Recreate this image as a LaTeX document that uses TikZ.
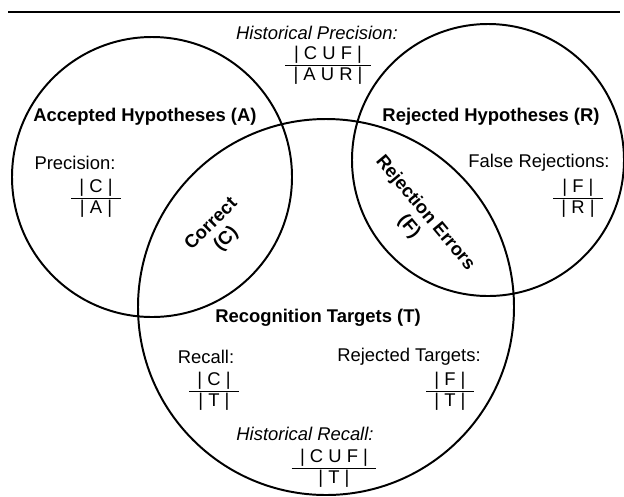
\documentclass[tikz,border=0pt]{standalone}
\usepackage{fontspec}
\setmainfont{Liberation Sans}
\usetikzlibrary{positioning}
\tikzset{
  setline/.style={line width=1.4pt},
  setname/.style={font=\bfseries},
  measure/.style={align=center, inner sep=0pt},
}
\setlength{\arrayrulewidth}{0.6pt}
\newcommand{\ratio}[2]{\begin{tabular}{@{\hspace{6pt}}c@{\hspace{6pt}}}#1\\[-1pt]\hline\rule{0pt}{11pt}#2\end{tabular}}

\begin{document}
\fontsize{13.1}{15}\selectfont
\begin{tikzpicture}[x=0.025cm,y=-0.025cm]
            \useasboundingbox (0,0) rectangle (624,496);
            \draw[line width=2pt] (8,12) -- (620,12);
            % the three sets
            \coordinate (cA) at (152,177);
            \coordinate (cR) at (488,160);
            \coordinate (cT) at (326,307);
            \draw[setline] (cA) circle[radius=140];
            \draw[setline] (cR) circle[radius=136];
            \draw[setline] (cT) circle[radius=188];
            % set names
            \node[setname] (nameA) at (145,117) {Accepted Hypotheses (A)};
            \node[setname] (nameR) at (491,117) {Rejected Hypotheses (R)};
            \node[setname] (nameT) at (318,318) {Recognition Targets (T)};
            \node[setname, align=center, rotate=45] (corr) at (219,232) {Correct\\(C)};
            \node[setname, align=center, rotate=-50] (rerr) at (417,220) {Rejection Errors\\(F)};
            % measures
            \node (hprec) at (317,33) {\itshape Historical Precision:};
            \node[measure] (hprecf) at (328,66) {\ratio{| C U F |}{| A U R |}};
            \node (prec) at (75,163) {Precision:};
            \node[measure] (precf) at (96,199) {\ratio{| C |}{| A |}};
            \node (frej) at (539,163) {False Rejections:};
            \node[measure] (frejf) at (578,199) {\ratio{| F |}{| R |}};
            \node (rec) at (206,357) {Recall:};
            \node[measure] (recf) at (214,392) {\ratio{| C |}{| T |}};
            \node (rtar) at (409,357) {Rejected Targets:};
            \node[measure] (rtarf) at (450,392) {\ratio{| F |}{| T |}};
            \node (hrec) at (305,434) {\itshape Historical Recall:};
            \node[measure] (hrecf) at (334,469) {\ratio{| C U F |}{| T |}};
        \end{tikzpicture}
\end{document}
